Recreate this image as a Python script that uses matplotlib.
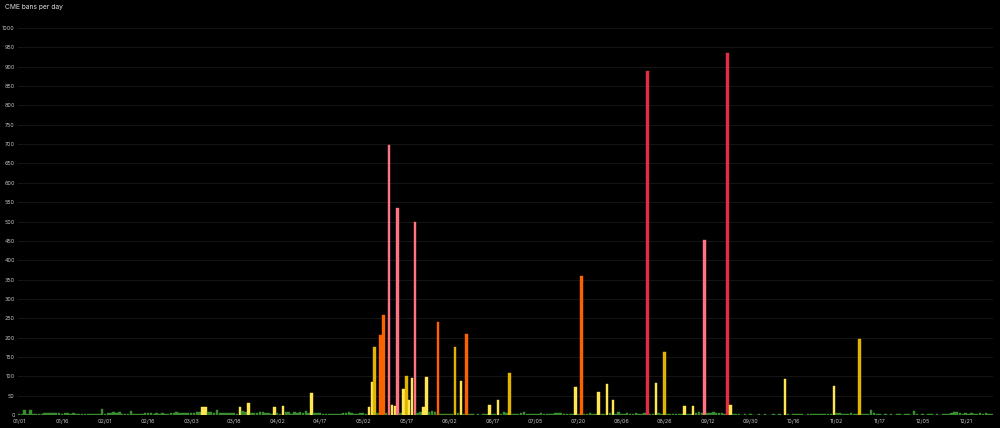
import numpy as np
import matplotlib
matplotlib.use("Agg")
import matplotlib.pyplot as plt

# daily CME bans, one value per day (categorical x axis, some days missing)
bans = [
    3, 3, 12, 3, 12, 2, 2, 3, 2, 4, 5, 4, 5, 6, 4,
    3, 6, 4, 3, 5, 3, 2, 3, 2, 2, 3, 2, 3, 3, 15,
    2, 4, 6, 7, 5, 8, 3, 2, 2, 10, 3, 2, 2, 2, 5,
    6, 5, 3, 4, 3, 4, 3, 3, 4, 6, 7, 5, 4, 6, 5,
    6, 5, 7, 8, 20, 21, 9, 8, 6, 14, 5, 4, 6, 5, 4,
    5, 3, 20, 10, 8, 30, 6, 4, 6, 8, 7, 4, 5, 3, 20,
    4, 3, 23, 7, 8, 3, 7, 6, 8, 6, 10, 5, 57, 5, 4,
    5, 3, 2, 2, 3, 2, 3, 2, 4, 5, 9, 4, 3, 2, 4,
    5, 3, 20, 85, 175, 5, 207, 258, 4, 698, 26, 23, 536, 6, 68,
    100, 38, 95, 500, 5, 8, 20, 97, 9, 10, 7, 240, 2, 2, 3,
    2, 3, 176, 4, 88, 3, 209, 2, 2, 1, 2, 1, 2, 2, 27,
    2, 3, 39, 3, 8, 4, 109, 2, 3, 2, 6, 7, 3, 2, 3,
    2, 3, 4, 2, 3, 2, 3, 5, 6, 4, 2, 3, 2, 2, 72,
    2, 359, 3, 2, 4, 3, 2, 59, 3, 3, 79, 4, 40, 3, 7,
    3, 2, 4, 3, 2, 5, 3, 2, 4, 888, 3, 2, 82, 4, 2,
    163, 2, 3, 2, 2, 3, 2, 24, 2, 2, 22, 6, 7, 6, 453,
    5, 6, 7, 6, 4, 5, 3, 935, 25, 2, 2, 3, 1, 2, 1,
    2, 1, 1, 2, 1, 2, 1, 1, 2, 1, 2, 1, 92, 2, 1,
    2, 2, 3, 2, 1, 2, 3, 2, 2, 3, 2, 3, 2, 2, 75,
    6, 5, 3, 2, 3, 4, 3, 2, 196, 2, 3, 3, 12, 6, 2,
    2, 1, 2, 1, 2, 1, 2, 2, 1, 2, 2, 1, 10, 2, 1,
    2, 1, 2, 2, 1, 2, 1, 2, 2, 3, 6, 8, 7, 4, 3,
    4, 3, 4, 3, 3, 4, 3, 6, 2, 2,
]

# shown date labels, one every 15 bars
date_labels = ["01/01", "01/16", "02/01", "02/16", "03/03", "03/18", "04/02",
               "04/17", "05/02", "05/17", "06/02", "06/17", "07/05", "07/20",
               "08/06", "08/26", "09/12", "09/30", "10/16", "11/02", "11/17",
               "12/05", "12/21"]

# value thresholds -> colours
thresholds = [0, 20, 100, 200, 400, 800]
threshold_colors = ["#3A8C30", "#FFE552", "#E0B400", "#FA6400", "#FF7383", "#E02F44"]


def bar_color(v):
    c = threshold_colors[0]
    for t, col in zip(thresholds, threshold_colors):
        if v >= t:
            c = col
    return c


plt.rcParams['font.family'] = ['Inter', 'DejaVu Sans']

fig = plt.figure(figsize=(10, 4.28), dpi=100, facecolor="#000000")
ax = fig.add_axes([0.0175, 13 / 428, 0.9755, 387 / 428])
ax.set_facecolor("#000000")

x = np.arange(len(bans))
colors = [bar_color(v) for v in bans]
ax.bar(x, bans, width=0.88, color=colors, edgecolor=colors, linewidth=0.3, zorder=3)

ax.set_xlim(-0.5, len(bans) - 0.5)
ax.set_ylim(0, 1000)
ax.set_yticks(np.arange(0, 1001, 50))
ax.set_xticks(np.arange(0, len(date_labels) * 15, 15))
ax.set_xticklabels(date_labels)

ax.grid(axis="y", color="#151518", linewidth=0.7, zorder=0)
ax.grid(axis="x", visible=False)
for s in ax.spines.values():
    s.set_visible(False)
ax.tick_params(axis="both", length=0, labelsize=3.9, colors="#c4c5ca")
ax.tick_params(axis="y", pad=2)
ax.tick_params(axis="x", pad=3)

fig.text(0.005, 1 - 7 / 428, "CME bans per day", color="#e0e1e3", fontsize=4.8,
         ha="left", va="center")

fig.savefig("out.png", dpi=100, facecolor=fig.get_facecolor())
